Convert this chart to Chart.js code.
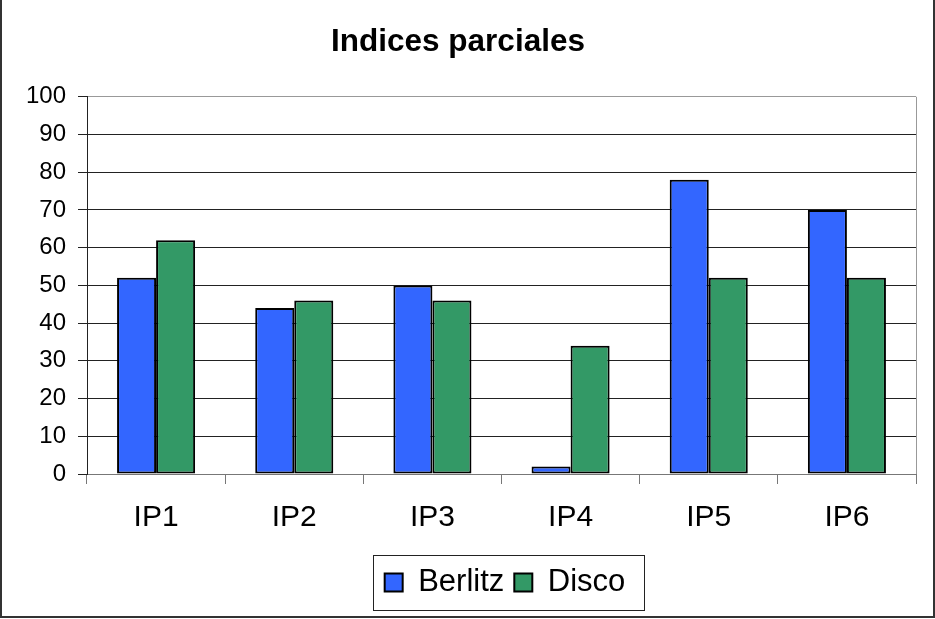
<!DOCTYPE html>
<html>
<head>
<meta charset="utf-8">
<script src="https://cdn.jsdelivr.net/npm/chart.js@4"></script>
<style>
  html, body { margin: 0; padding: 0; background: #fff; }
  #wrap { width: 935px; height: 619px; }
</style>
</head>
<body>
<div id="wrap"><canvas id="chart" width="935" height="619"></canvas></div>
<script>
const categories = ["IP1", "IP2", "IP3", "IP4", "IP5", "IP6"];
const berlitz = [52, 44, 50, 2, 78, 70];
const disco = [62, 46, 46, 34, 52, 52];
const yTicks = [0, 10, 20, 30, 40, 50, 60, 70, 80, 90, 100];

const FONT = "'Liberation Sans', Arial, sans-serif";
const LEGEND_SHIFT = 47; // legend sits right of centre in the original

// --- frame, plot border and legend box ---
const framePlugin = {
  id: "frame",
  afterLayout(chart) {
    chart.legend.left += LEGEND_SHIFT;
    chart.legend.right += LEGEND_SHIFT;
  },
  beforeDraw(chart) {
    const { ctx, width, height } = chart;
    ctx.save();
    ctx.fillStyle = "#fff";
    ctx.fillRect(0, 0, width, height);
    ctx.restore();
  },
  afterDraw(chart) {
    const { ctx, width, height, chartArea } = chart;
    ctx.save();
    // right edge of the plot
    ctx.strokeStyle = "#999";
    ctx.lineWidth = 1;
    ctx.beginPath();
    ctx.moveTo(chartArea.right + 0.5, chartArea.top);
    ctx.lineTo(chartArea.right + 0.5, chartArea.bottom);
    ctx.stroke();

    // legend box
    const boxes = chart.legend.legendHitBoxes;
    if (boxes.length) {
      const first = boxes[0];
      const last = boxes[boxes.length - 1];
      const left = first.left - 12;
      const right = last.left + last.width + 18;
      const top = first.top - 12;
      const bottom = first.top + first.height + 12;
      ctx.strokeStyle = "#222";
      ctx.lineWidth = 1;
      ctx.strokeRect(Math.round(left) + 0.5, Math.round(top) + 0.5, Math.round(right - left), Math.round(bottom - top));
    }

    // outer frame (left, right, bottom)
    ctx.strokeStyle = "#333";
    ctx.lineWidth = 2;
    ctx.beginPath();
    ctx.moveTo(1, 0);
    ctx.lineTo(1, height - 2);
    ctx.lineTo(width - 1, height - 2);
    ctx.lineTo(width - 1, 0);
    ctx.stroke();
    ctx.restore();
  },
};

new Chart(document.getElementById("chart"), {
  type: "bar",
  data: {
    labels: categories,
    datasets: [
      { label: "Berlitz", data: berlitz, backgroundColor: "#3366FF", borderColor: "#000", borderWidth: 2, borderSkipped: false },
      { label: "Disco", data: disco, backgroundColor: "#339966", borderColor: "#000", borderWidth: 2, borderSkipped: false },
    ],
  },
  options: {
    responsive: false,
    animation: false,
    layout: { padding: { left: 0, right: 19, top: 0, bottom: 11 } },
    datasets: { bar: { barPercentage: 1, categoryPercentage: 0.565 } },
    scales: {
      x: {
        offset: true,
        afterFit: (scale) => { scale.height = 83; },
        grid: { offset: true, drawOnChartArea: false, drawTicks: true, tickLength: 10, color: "#777" },
        border: { display: true, color: "#777", width: 1 },
        ticks: { color: "#000", padding: 16, font: { family: FONT, size: 30 } },
      },
      y: {
        min: 0,
        max: 100,
        afterFit: (scale) => { scale.width = 87; },
        afterBuildTicks: (scale) => { scale.ticks = yTicks.map((v) => ({ value: v })); },
        grid: {
          color: (c) => (c.tick && c.tick.value === 100 ? "#999" : "#222"),
          tickColor: "#222",
          tickLength: 9,
        },
        border: { display: true, color: "#222", width: 1 },
        ticks: { color: "#000", padding: 12, font: { family: FONT, size: 24 } },
      },
    },
    plugins: {
      title: {
        display: true,
        text: "Indices parciales",
        color: "#000",
        font: { family: FONT, size: 31.5, weight: "bold" },
        padding: { top: 23, bottom: 36 },
      },
      legend: {
        position: "bottom",
        labels: {
          color: "#000",
          boxWidth: 18,
          boxHeight: 18,
          padding: 10,
          font: { family: FONT, size: 31 },
        },
      },
      tooltip: { enabled: false },
    },
  },
  plugins: [framePlugin],
});
</script>
</body>
</html>
